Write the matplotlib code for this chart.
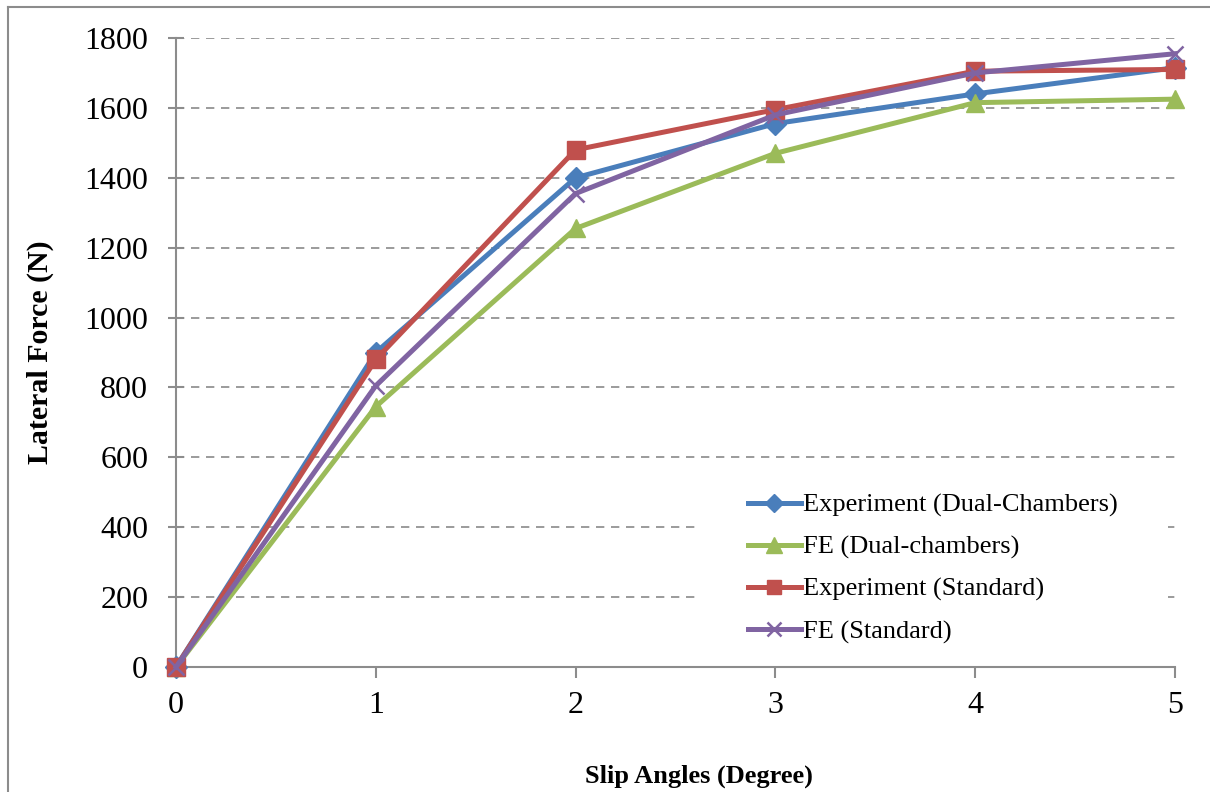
import matplotlib
matplotlib.use("Agg")
import matplotlib.pyplot as plt
from matplotlib.lines import Line2D
from matplotlib.patches import Rectangle

slip_angles = [0, 1, 2, 3, 4, 5]
exp_dual = [0, 900, 1400, 1555, 1640, 1715]
fe_dual = [0, 745, 1255, 1470, 1615, 1625]
exp_std = [0, 880, 1480, 1595, 1705, 1710]
fe_std = [0, 805, 1355, 1580, 1700, 1755]

labels = ["Experiment (Dual-Chambers)", "FE (Dual-chambers)",
          "Experiment (Standard)", "FE (Standard)"]
yticks = [0, 200, 400, 600, 800, 1000, 1200, 1400, 1600, 1800]

plt.rcParams['font.family'] = ['Liberation Serif', 'DejaVu Serif']

W, H = 1210, 792
fig = plt.figure(figsize=(W / 100, H / 100), dpi=100)

# outer chart border (left and top visible)
fig.add_artist(Line2D([8 / W, 8 / W], [0, 1 - 7 / H], transform=fig.transFigure,
                      color='#8c8c8c', lw=1.5))
fig.add_artist(Line2D([8 / W, 1], [1 - 7 / H, 1 - 7 / H], transform=fig.transFigure,
                      color='#8c8c8c', lw=1.5))

left, right = 176 / W, 1175 / W
bottom, top = 1 - 667 / H, 1 - 38 / H
ax = fig.add_axes([left, bottom, right - left, top - bottom])

ax.set_xlim(0, 5)
ax.set_ylim(0, 1800)
ax.set_yticks(yticks)
ax.set_xticks(slip_angles)

for y in yticks[1:]:
    ax.axhline(y, color='#8a8a8a', lw=1.2, ls=(0, (5, 4)), zorder=1)

# white legend area covering gridlines
ax.add_patch(Rectangle((0.5245, 0.019), 0.4685, 0.294, transform=ax.transAxes,
                       facecolor='white', edgecolor='none', zorder=1.5))

series = [
    (exp_dual, '#4A7EBB', 'D', 11),
    (fe_dual, '#9BBB59', '^', 13),
    (exp_std, '#C0504D', 's', 12.5),
    (fe_std, '#8064A2', 'x', 12),
]
handles = []
for (vals, col, mk, ms), lab in zip(series, labels):
    if mk == 'x':
        h, = ax.plot(slip_angles, vals, color=col, lw=3.6, marker=mk, ms=ms,
                     mew=1.8, label=lab, zorder=3, clip_on=False)
    else:
        h, = ax.plot(slip_angles, vals, color=col, lw=3.6, marker=mk, ms=ms,
                     mec=col, mfc=col, label=lab, zorder=3, clip_on=False)
    handles.append(h)

for s in ['top', 'right']:
    ax.spines[s].set_visible(False)
for s in ['left', 'bottom']:
    ax.spines[s].set_color('#8c8c8c')
    ax.spines[s].set_linewidth(1.5)

ax.tick_params(axis='y', direction='inout', length=12, width=1.5, color='#8c8c8c',
               labelsize=23, pad=14)
ax.tick_params(axis='x', direction='out', length=8, width=1.5, color='#8c8c8c',
               labelsize=23, pad=9)

ax.set_ylabel('Lateral Force (N)', fontsize=21.5, fontweight='bold', labelpad=22)
ax.set_xlabel('Slip Angles (Degree)', fontsize=19, fontweight='bold')
ax.xaxis.set_label_coords(0.5235, -0.155)

leg = ax.legend(handles=handles, loc='upper left', bbox_to_anchor=(0.5726, 0.276),
                frameon=False, fontsize=19, handlelength=2.0, handletextpad=0.1,
                labelspacing=0.69, borderpad=0, borderaxespad=0, markerscale=0.85)
leg.set_zorder(2)

fig.savefig('out.png', dpi=100)
